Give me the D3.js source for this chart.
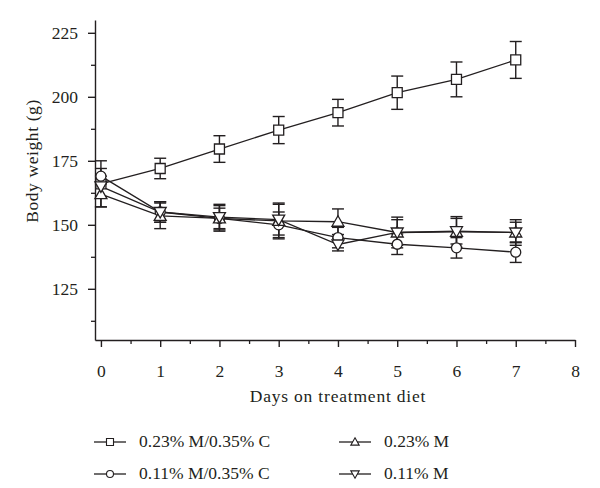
<!DOCTYPE html>
<html>
<head>
<meta charset="utf-8">
<script src="https://cdn.jsdelivr.net/npm/d3@7"></script>
<style>
  body { margin: 0; background: #fff; }
  text { font-family: "Liberation Serif", "DejaVu Serif", serif; fill: #231f20; }
</style>
</head>
<body>
<script>
var w = 600;
var h = 488;

// data
var days = [0, 1, 2, 3, 4, 5, 6, 7];
var seriesNames = ["0.23% M/0.35% C", "0.11% M/0.35% C", "0.23% M", "0.11% M"];
var seriesShapes = ["square", "circle", "up", "down"];
var sqMean = [166, 172, 179.6, 187, 193.8, 201.6, 206.8, 214.4];
var sqErr  = [9, 4, 5.2, 5.3, 5.2, 6.5, 6.8, 7.2];
var ciMean = [169, 155, 152.5, 150, 145, 142.4, 141, 139.3];
var ciErr  = [3, 4, 4, 5, 4, 4, 4, 4];
var upMean = [162, 153.5, 152.5, 151.5, 151.2, 147, 147.2, 147];
var upErr  = [5, 5, 5, 7, 5, 6, 6, 5];
var dnMean = [165, 155, 153, 152, 142.3, 147, 147.5, 147];
var dnErr  = [4, 4, 5, 6, 2.5, 5, 5, 4];
var yTicks = [125, 150, 175, 200, 225];
var xTicks = [0, 1, 2, 3, 4, 5, 6, 7, 8];

var means = [sqMean, ciMean, upMean, dnMean];
var errs = [sqErr, ciErr, upErr, dnErr];

var series = seriesNames.map(function(name, i) {
  return {
    name: name,
    shape: seriesShapes[i],
    points: days.map(function(d, j) { return {day: d, v: means[i][j], e: errs[i][j]}; })
  };
});

var x = d3.scaleLinear().domain([-0.1, 8]).range([95, 575]);
var y = d3.scaleLinear().domain([105, 230]).range([340, 20]);

var svg = d3.select("body").append("svg")
    .attr("width", w)
    .attr("height", h);

// minor ticks
svg.append("g")
    .attr("transform", "translate(95,0)")
    .call(d3.axisLeft(y).tickValues(d3.range(112.5, 230, 25)).tickSize(4).tickFormat(""))
    .call(function(g) { g.select(".domain").remove(); })
    .selectAll("line").attr("stroke", "#231f20").attr("stroke-width", 1.3);

svg.append("g")
    .attr("transform", "translate(0,340)")
    .call(d3.axisBottom(x).tickValues(d3.range(0.5, 8, 1)).tickSize(4).tickFormat(""))
    .call(function(g) { g.select(".domain").remove(); })
    .selectAll("line").attr("stroke", "#231f20").attr("stroke-width", 1.3);

// main axes
var yAxis = svg.append("g")
    .attr("transform", "translate(95,0)")
    .call(d3.axisLeft(y).tickValues(yTicks).tickSize(7).tickSizeOuter(0).tickPadding(10));

var xAxis = svg.append("g")
    .attr("transform", "translate(0,340)")
    .call(d3.axisBottom(x).tickValues(xTicks).tickSize(7).tickSizeOuter(0).tickPadding(18));

[yAxis, xAxis].forEach(function(a) {
  a.selectAll("path, line").attr("stroke", "#231f20").attr("stroke-width", 1.4);
  a.selectAll("text").style("font-size", "17.5px").attr("fill", "#231f20")
    .style("font-family", "'Liberation Serif', serif");
});

// axis titles
svg.append("text")
    .attr("x", 338).attr("y", 402)
    .attr("text-anchor", "middle")
    .style("font-size", "17.5px")
    .style("letter-spacing", "0.8px")
    .text("Days on treatment diet");

svg.append("text")
    .attr("transform", "translate(38,161) rotate(-90)")
    .attr("text-anchor", "middle")
    .style("font-size", "17.5px")
    .style("letter-spacing", "0.6px")
    .text("Body weight (g)");

function symbolPath(shape, s) {
  if (shape === "square") {
    return "M" + (-s) + "," + (-s) + "h" + (2 * s) + "v" + (2 * s) + "h" + (-2 * s) + "Z";
  } else if (shape === "circle") {
    return "M" + (-s) + ",0a" + s + "," + s + " 0 1,0 " + (2 * s) + ",0a" + s + "," + s + " 0 1,0 " + (-2 * s) + ",0Z";
  } else if (shape === "up") {
    var t = s * 1.2;
    return "M0," + (-t) + "L" + t + "," + (t * 0.75) + "L" + (-t) + "," + (t * 0.75) + "Z";
  } else {
    var u = s * 1.2;
    return "M0," + u + "L" + u + "," + (-u * 0.75) + "L" + (-u) + "," + (-u * 0.75) + "Z";
  }
}

var line = d3.line()
    .x(function(d) { return x(d.day); })
    .y(function(d) { return y(d.v); });

var plot = svg.append("g");

// lines
plot.selectAll(".series-line")
    .data(series)
    .enter()
    .append("path")
    .attr("class", "series-line")
    .attr("d", function(d) { return line(d.points); })
    .attr("fill", "none")
    .attr("stroke", "#231f20")
    .attr("stroke-width", 1.3);

// error bars
series.forEach(function(s) {
  var g = plot.append("g");
  var eb = g.selectAll("g").data(s.points).enter().append("g");
  eb.append("line")
      .attr("x1", function(d) { return x(d.day); })
      .attr("x2", function(d) { return x(d.day); })
      .attr("y1", function(d) { return y(d.v + d.e); })
      .attr("y2", function(d) { return y(d.v - d.e); });
  eb.append("line")
      .attr("x1", function(d) { return x(d.day) - 6; })
      .attr("x2", function(d) { return x(d.day) + 6; })
      .attr("y1", function(d) { return y(d.v + d.e); })
      .attr("y2", function(d) { return y(d.v + d.e); });
  eb.append("line")
      .attr("x1", function(d) { return x(d.day) - 6; })
      .attr("x2", function(d) { return x(d.day) + 6; })
      .attr("y1", function(d) { return y(d.v - d.e); })
      .attr("y2", function(d) { return y(d.v - d.e); });
  eb.selectAll("line").attr("stroke", "#231f20").attr("stroke-width", 1.4);
});

// markers
series.forEach(function(s) {
  plot.append("g").selectAll("path")
      .data(s.points)
      .enter()
      .append("path")
      .attr("transform", function(d) { return "translate(" + x(d.day) + "," + y(d.v) + ")"; })
      .attr("d", symbolPath(s.shape, 5))
      .attr("fill", "#fff")
      .attr("stroke", "#231f20")
      .attr("stroke-width", 1.3);
});

// legend
var legendPos = [[94, 442], [94, 474], [339, 442], [339, 474]];
var legend = svg.append("g").selectAll("g")
    .data(series)
    .enter()
    .append("g")
    .attr("transform", function(d, i) { return "translate(" + legendPos[i][0] + "," + legendPos[i][1] + ")"; });

legend.append("line")
    .attr("x1", 0).attr("x2", 32)
    .attr("y1", 0).attr("y2", 0)
    .attr("stroke", "#231f20")
    .attr("stroke-width", 1.3);

legend.append("path")
    .attr("transform", "translate(16,0)")
    .attr("d", function(d) { return symbolPath(d.shape, 3.5); })
    .attr("fill", "#fff")
    .attr("stroke", "#231f20")
    .attr("stroke-width", 1.1);

legend.append("text")
    .attr("x", 45)
    .attr("y", 5)
    .style("font-size", "17.5px")
    .text(function(d) { return d.name; });
</script>
</body>
</html>
